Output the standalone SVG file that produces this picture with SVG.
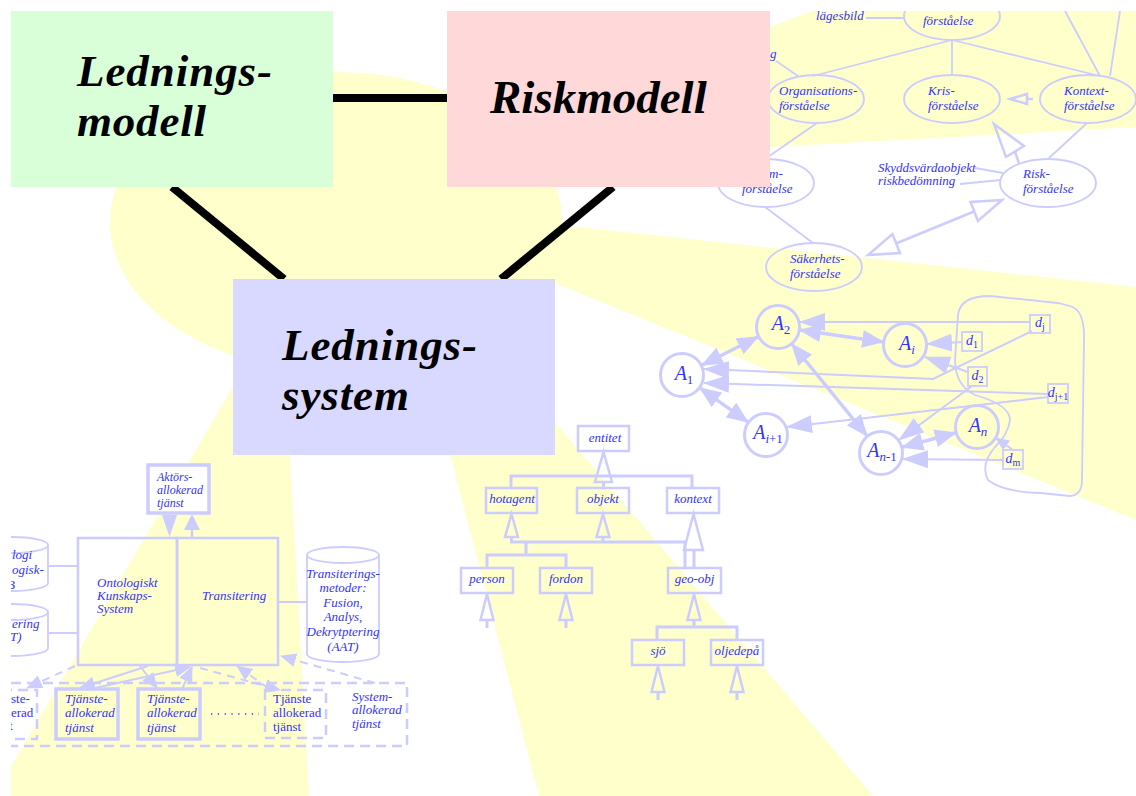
<svg xmlns="http://www.w3.org/2000/svg" width="1136" height="796" viewBox="0 0 1136 796">
<style>
.t{font-family:"Liberation Serif",serif;font-size:13px;fill:#3333ff;font-style:italic}
.u{font-style:normal}
.big{font-family:"Liberation Serif",serif;font-size:47px;font-weight:bold;font-style:italic;fill:#000}
.big2{font-family:"Liberation Serif",serif;font-size:45px;font-weight:bold;font-style:italic;fill:#000}
.an{font-family:"Liberation Serif",serif;font-size:20px;fill:#3333ff;font-style:italic}
.dn{font-family:"Liberation Serif",serif;font-size:14px;fill:#3333ff;font-style:italic}
.sub{font-style:normal;font-size:13px}
.subi{font-style:italic;font-size:13px}
.dsub{font-style:normal;font-size:10px}
.s{stroke:#ccccff;fill:none;stroke-width:1.8}
.s2{stroke:#ccccff;fill:none;stroke-width:2.5}
.s3{stroke:#ccccff;fill:none;stroke-width:3}
.ho{stroke:#ccccff;fill:none;stroke-width:2.5;stroke-linejoin:miter}
.dash{stroke:#ccccff;fill:none;stroke-width:2.5;stroke-dasharray:10 6}
.blk{stroke:#000;stroke-width:8;fill:none}
.yel{fill:#ffffcc}
</style>
<defs>
<clipPath id="clip"><rect x="11" y="11" width="1125" height="785"/></clipPath>
<marker id="fh" markerUnits="userSpaceOnUse" viewBox="0 0 26 18" refX="25" refY="9" markerWidth="26" markerHeight="18" orient="auto-start-reverse"><path d="M0,0 L26,9 L0,18 Z" fill="#ccccff"/></marker>
<marker id="fd" markerUnits="userSpaceOnUse" viewBox="0 0 22 18" refX="21" refY="9" markerWidth="22" markerHeight="18" orient="auto-start-reverse"><path d="M0,0 L22,9 L0,18 Z" fill="#ccccff"/></marker>
<marker id="fs" markerUnits="userSpaceOnUse" viewBox="0 0 16 14" refX="15" refY="7" markerWidth="16" markerHeight="14" orient="auto-start-reverse"><path d="M0,0 L16,7 L0,14 Z" fill="#ccccff"/></marker>
<marker id="fx" markerUnits="userSpaceOnUse" viewBox="0 0 14 12" refX="13" refY="6" markerWidth="14" markerHeight="12" orient="auto-start-reverse"><path d="M0,0 L14,6 L0,12 Z" fill="#ccccff"/></marker>
</defs>
<rect x="0" y="0" width="1136" height="796" fill="#fff"/>
<g clip-path="url(#clip)">
<g id="background">
<ellipse class="yel" cx="336" cy="222" rx="226" ry="150"/>
<polygon class="yel" points="360,184 812,11 1136,11 1136,127 770,147"/>
<polygon class="yel" points="360,190 540,223 1136,287 1136,520 555,283"/>
<polygon class="yel" points="266,330 283,330 309,796 -6,796"/>
<polygon class="yel" points="436,400 536,400 873,796 539,796"/>
</g>

<g id="understanding-map">
<g id="connectors-understanding">
<path class="s" d="M866,18 H904"/>
<path class="s" d="M776,61 L798,76"/>
<path class="s" d="M952,40 L813,76 M952,40 V75 M952,40 L1100,76 M1100,76 L1065,11 M1110,76 L1120,11"/>
<path class="s" d="M817,123 L765,159"/>
<path class="s" d="M1087,123 L1048,159"/>
<path class="s" d="M975,168 L1003,173 M960,184 L1001,180"/>
<path class="s" d="M765,207 L813,243"/>
<polygon class="ho" points="1010,99 1027,94 1027,104"/>
<path class="ho" d="M1027,99 H1033"/>
<polygon class="ho" points="994,124 1024,146 1006,157"/>
<path class="ho" d="M1015,152 L1019,163"/>
<polygon class="ho" points="1002,200 970.5,202 978,221"/>
<polygon class="ho" points="868,255 900,253 892.5,234"/>
<path class="ho" d="M974,211.5 L896,243.5"/>
</g>
<g id="n-top"><ellipse class="s" cx="952" cy="16" rx="48" ry="24"/><text class="t" x="923" y="25">förståelse</text></g>
<g id="n-lagesbild"><text class="t" x="816" y="20">lägesbild</text></g>
<g id="n-g"><text class="t" x="770" y="58">g</text></g>
<g id="n-org"><ellipse class="s" cx="816" cy="99" rx="48" ry="24"/><text class="t" x="779" y="95">Organisations-</text><text class="t" x="779" y="110">förståelse</text></g>
<g id="n-kris"><ellipse class="s" cx="952" cy="99" rx="48" ry="24"/><text class="t" x="928" y="95">Kris-</text><text class="t" x="928" y="110">förståelse</text></g>
<g id="n-kontext"><ellipse class="s" cx="1088" cy="99" rx="48" ry="24"/><text class="t" x="1064" y="95">Kontext-</text><text class="t" x="1064" y="110">förståelse</text></g>
<g id="n-system"><ellipse class="s" cx="766" cy="183" rx="48" ry="24"/><text class="t" x="769" y="178">m-</text><text class="t" x="742" y="193">förståelse</text></g>
<g id="n-skydd"><text class="t" x="878" y="172">Skyddsvärdaobjekt</text><text class="t" x="878" y="185">riskbedömning</text></g>
<g id="n-risk"><ellipse class="s" cx="1048" cy="183" rx="48" ry="24"/><text class="t" x="1023" y="178">Risk-</text><text class="t" x="1023" y="193">förståelse</text></g>
<g id="n-sakerhet"><ellipse class="s" cx="814" cy="267" rx="48" ry="24"/><text class="t" x="790" y="263">Säkerhets-</text><text class="t" x="790" y="278">förståelse</text></g>
</g>

<g id="connectors-main">
<path class="blk" d="M333,98 H447"/>
<path class="blk" d="M172,187 L284,279"/>
<path class="blk" d="M613,187 L501,279"/>
</g>
<g id="ledningsmodell"><rect x="11" y="11" width="322" height="176" fill="#d9ffd9"/><text class="big2" x="77" y="86" textLength="195" lengthAdjust="spacing">Lednings-</text><text class="big2" x="77" y="136" textLength="129" lengthAdjust="spacing">modell</text></g>
<g id="riskmodell"><rect x="447" y="11" width="323" height="176" fill="#ffd9d9"/><text class="big" x="490" y="113">Riskmodell</text></g>
<g id="ledningssystem"><rect x="233" y="279" width="322" height="176" fill="#d9d9ff"/><text class="big2" x="282" y="360" textLength="195" lengthAdjust="spacing">Lednings-</text><text class="big2" x="282" y="410" textLength="127" lengthAdjust="spacing">system</text></g>

<g id="agent-graph">
<g id="connectors-agents">
<path class="s" d="M1058,303 L990,296 Q960,296 958,315 L955,360 Q955,385 975,395 Q1010,405 1010,420 Q1008,435 995,447 Q980,465 988,480 Q1003,492 1040,493 L1070,496 Q1082,495 1082,480 L1084,340 Q1085,310 1070,306 Z"/>
<g stroke="#ccccff" stroke-width="3.5" fill="none" marker-start="url(#fd)" marker-end="url(#fd)">
<path d="M701.7,365.2 L758.3,336.8"/>
<path d="M799.8,330.1 L883.2,341.9"/>
<path d="M791.9,344 L867.1,436"/>
<path d="M699.9,387.8 L748.1,422.2"/>
<path d="M902.2,447.3 L955.8,432.7"/>
</g>
<g stroke="#ccccff" stroke-width="2" fill="none" marker-end="url(#fh)">
<path d="M1030,322 L800,322"/>
<path d="M962,342 L927,344"/>
<path d="M1032,331 L933,379 L704,369"/>
<path d="M1048,394 L704,383"/>
<path d="M968,372 L925,357"/>
<path d="M972,386 L899,440"/>
<path d="M1048,397 L787,427"/>
<path d="M1003,460 L903,459"/>
</g>
<path d="M1013,450 L996,438" stroke="#ccccff" stroke-width="2" marker-end="url(#fx)"/>
</g>
<g id="A1"><circle class="s3" cx="682" cy="375" r="21.5"/><text class="an" x="684" y="380" text-anchor="middle">A<tspan class="sub" dy="4">1</tspan></text></g>
<g id="A2"><circle class="s3" cx="778" cy="327" r="21.5"/><text class="an" x="781" y="330" text-anchor="middle">A<tspan class="sub" dy="4">2</tspan></text></g>
<g id="Ai"><circle class="s3" cx="905" cy="345" r="21.5"/><text class="an" x="907" y="350" text-anchor="middle">A<tspan class="subi" dy="4">i</tspan></text></g>
<g id="Ai1"><circle class="s3" cx="766" cy="435" r="21.5"/><text class="an" x="768" y="439" text-anchor="middle">A<tspan class="subi" dy="4">i</tspan><tspan class="sub">+1</tspan></text></g>
<g id="An1"><circle class="s3" cx="881" cy="453" r="21.5"/><text class="an" x="882" y="457" text-anchor="middle">A<tspan class="subi" dy="4">n</tspan><tspan class="sub">-1</tspan></text></g>
<g id="An"><circle class="s3" cx="977" cy="427" r="21.5"/><text class="an" x="978" y="432" text-anchor="middle">A<tspan class="subi" dy="4">n</tspan></text></g>
<g id="dj"><rect class="s" x="1030" y="315" width="20" height="18"/><text class="dn" x="1040" y="327" text-anchor="middle">d<tspan class="dsub" dy="3">j</tspan></text></g>
<g id="d1"><rect class="s" x="962" y="332" width="20" height="19"/><text class="dn" x="972" y="345" text-anchor="middle">d<tspan class="dsub" dy="3">1</tspan></text></g>
<g id="d2"><rect class="s" x="968" y="367" width="19" height="19"/><text class="dn" x="977.5" y="380" text-anchor="middle">d<tspan class="dsub" dy="3">2</tspan></text></g>
<g id="dj1"><rect class="s" x="1048" y="384" width="20" height="19"/><text class="dn" x="1058" y="397" text-anchor="middle">d<tspan class="dsub" dy="3">j+1</tspan></text></g>
<g id="dm"><rect class="s" x="1003" y="450" width="20" height="19"/><text class="dn" x="1013" y="463" text-anchor="middle">d<tspan class="dsub" dy="3">m</tspan></text></g>
</g>

<g id="ontology-tree">
<g id="connectors-tree">
<path class="s3" d="M511,488 V476 H692 V488"/>
<path class="s3" d="M603.5,482 V488"/>
<polygon class="ho" points="603.5,452 595,482 612,482"/>
<polygon class="ho" points="511.5,514 505,537 518,537"/>
<polygon class="ho" points="603,514 596.5,537 609.5,537"/>
<polygon class="ho" points="693.5,514 684,550 703,550"/>
<path class="s3" d="M511.5,537 V542 H685 V568 M603,537 V542 M694,550 V568"/>
<path class="s3" d="M526,542 V555 M487,568 V555 H566 V568"/>
<polygon class="ho" points="487,594 480.5,620 493.5,620"/>
<polygon class="ho" points="566,594 559.5,620 572.5,620"/>
<path class="s3" d="M487,620 V628 M566,620 V628"/>
<polygon class="ho" points="694,594 687.5,620 700.5,620"/>
<path class="s3" d="M694,620 V627 M657,640 V627 H737 V640"/>
<polygon class="ho" points="658,666 651.5,692 664.5,692"/>
<polygon class="ho" points="737,666 730.5,692 743.5,692"/>
<path class="s3" d="M658,692 V700 M737,692 V700"/>
</g>
<g id="entitet"><rect class="s2" x="578" y="426" width="51" height="25"/><text class="t" x="605" y="442" text-anchor="middle">entitet</text></g>
<g id="hotagent"><rect class="s2" x="486" y="488" width="51" height="25"/><text class="t" x="512" y="503" text-anchor="middle">hotagent</text></g>
<g id="objekt"><rect class="s2" x="577" y="488" width="52" height="25"/><text class="t" x="603" y="503" text-anchor="middle">objekt</text></g>
<g id="kontext"><rect class="s2" x="667" y="488" width="52" height="25"/><text class="t" x="693" y="503" text-anchor="middle">kontext</text></g>
<g id="person"><rect class="s2" x="461" y="568" width="52" height="25"/><text class="t" x="487" y="583" text-anchor="middle">person</text></g>
<g id="fordon"><rect class="s2" x="540" y="568" width="52" height="25"/><text class="t" x="566" y="583" text-anchor="middle">fordon</text></g>
<g id="geo-obj"><rect class="s2" x="668" y="568" width="53" height="25"/><text class="t" x="694.5" y="583" text-anchor="middle">geo-obj</text></g>
<g id="sjo"><rect class="s2" x="632" y="640" width="52" height="25"/><text class="t" x="658" y="655" text-anchor="middle">sjö</text></g>
<g id="oljedepa"><rect class="s2" x="711" y="640" width="52" height="25"/><text class="t" x="737" y="655" text-anchor="middle">oljedepå</text></g>
</g>

<g id="system-architecture">
<g id="connectors-system">
<path class="s" d="M48,566 H78 M48,633 H78 M278,602 H307"/>
<polygon points="162,515 177,515 169.5,537" fill="#ccccff"/>
<polygon points="192,514 184,530 200,530" fill="#ccccff"/>
<path class="s2" d="M192,530 V538"/>
<g stroke="#ccccff" stroke-width="2" fill="none" marker-end="url(#fs)">
<path d="M148,666 L80,688"/>
<path d="M95,688 L190,667"/>
<path d="M140,666 L157,688"/>
<path d="M182,689 L192,667"/>
</g>
<g stroke="#ccccff" stroke-width="2" fill="none" stroke-dasharray="8 6" marker-end="url(#fs)">
<path d="M75,666 L27,688"/>
<path d="M200,668 L280,690"/>
<path d="M268,688 L237,666"/>
<path d="M375,683 L281,656"/>
</g>
</g>
<g id="aktors"><rect x="148" y="465" width="61" height="48" fill="#fff" stroke="#ccccff" stroke-width="3.5"/><text class="t" x="157" y="481" style="font-size:12px">Aktörs-</text><text class="t" x="157" y="494" style="font-size:12px">allokerad</text><text class="t" x="157" y="507" style="font-size:12px">tjänst</text></g>
<g id="ontologiskt"><rect class="s2" x="78" y="538" width="99" height="127"/><text class="t" x="97" y="587">Ontologiskt</text><text class="t" x="97" y="600">Kunskaps-</text><text class="t" x="97" y="613">System</text></g>
<g id="transitering"><rect class="s2" x="177" y="538" width="101" height="127"/><text class="t" x="202" y="600">Transitering</text></g>
<g id="cyl1"><path class="s" d="M-24,545 V583 A36,8 0 0 0 48,583 V545"/><ellipse class="s" cx="12" cy="545" rx="36" ry="8"/><text class="t" x="12" y="559">logi</text><text class="t" x="12" y="574">ogisk-</text><text class="t" x="7" y="589">B</text></g>
<g id="cyl2"><path class="s" d="M-24,612 V648 A36,8 0 0 0 48,648 V612"/><ellipse class="s" cx="12" cy="612" rx="36" ry="8"/><text class="t" x="12" y="628">ering</text><text class="t" x="10" y="641">T)</text></g>
<g id="cyl-metoder"><path class="s" d="M307,555 V654 A36,8 0 0 0 379,654 V555"/><ellipse class="s" cx="343" cy="555" rx="36" ry="8"/>
<text class="t" text-anchor="middle" x="343" y="578">Transiterings-</text><text class="t" text-anchor="middle" x="343" y="592">metoder:</text><text class="t" text-anchor="middle" x="343" y="607">Fusion,</text><text class="t" text-anchor="middle" x="343" y="621">Analys,</text><text class="t" text-anchor="middle" x="343" y="636">Dekrytptering</text><text class="t" text-anchor="middle" x="343" y="651">(AAT)</text></g>
<g id="system-allokerad"><rect class="dash" x="-5" y="683" width="412" height="63"/><text class="t" x="352" y="701">System-</text><text class="t" x="352" y="714">allokerad</text><text class="t" x="352" y="728">tjänst</text></g>
<g id="tjanst-left"><rect class="dash" x="-30" y="690" width="67" height="49"/><text class="t u" x="11" y="703">ste-</text><text class="t u" x="11" y="717">erad</text><text class="t u" x="9" y="730">t</text></g>
<g id="tjanst1"><rect x="56" y="689" width="62" height="50" fill="none" stroke="#ccccff" stroke-width="3.5"/><text class="t" x="65" y="703">Tjänste-</text><text class="t" x="65" y="717">allokerad</text><text class="t" x="65" y="732">tjänst</text></g>
<g id="tjanst2"><rect x="138" y="689" width="62" height="50" fill="none" stroke="#ccccff" stroke-width="3.5"/><text class="t" x="147" y="703">Tjänste-</text><text class="t" x="147" y="717">allokerad</text><text class="t" x="147" y="732">tjänst</text></g>
<g id="dots"><path d="M211,714 H259" stroke="#3333ff" stroke-width="1.3" stroke-dasharray="1.3 5.5"/></g>
<g id="tjanst3"><rect class="dash" x="265" y="690" width="61" height="48"/><text class="t u" x="273" y="703">Tjänste</text><text class="t u" x="273" y="717">allokerad</text><text class="t u" x="273" y="731">tjänst</text></g>
</g>
</g>
</svg>
